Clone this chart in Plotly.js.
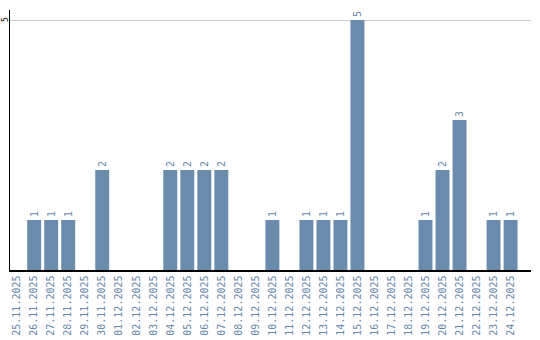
<!DOCTYPE html>
<html><head><meta charset="utf-8">
<script src="https://cdn.plot.ly/plotly-3.0.1.min.js"></script>
<style>body{margin:0;padding:0;background:#fff}#chart{width:540px;height:340px}</style>
</head><body><div id="chart"></div>
<script>
const dates = ["25.11.2025","26.11.2025","27.11.2025","28.11.2025","29.11.2025","30.11.2025","01.12.2025","02.12.2025","03.12.2025","04.12.2025","05.12.2025","06.12.2025","07.12.2025","08.12.2025","09.12.2025","10.12.2025","11.12.2025","12.12.2025","13.12.2025","14.12.2025","15.12.2025","16.12.2025","17.12.2025","18.12.2025","19.12.2025","20.12.2025","21.12.2025","22.12.2025","23.12.2025","24.12.2025"];
const counts = [0,1,1,1,0,2,0,0,0,2,2,2,2,0,0,1,0,1,1,1,5,0,0,0,1,2,3,0,1,1];
const yTickVals = [5];
const labels = counts.map(v => v > 0 ? String(v) : "");
const barColor = "#6a8bab";
Plotly.newPlot("chart", [{
  type: "bar", x: dates, y: counts, text: labels,
  textposition: "outside", textangle: -90, cliponaxis: false,
  textfont: {family: "DejaVu Sans Mono", size: 10, color: barColor},
  marker: {color: barColor}, hoverinfo: "none"
}], {
  width: 540, height: 340,
  margin: {l: 10, r: 9, t: 10, b: 70},
  paper_bgcolor: "#fff", plot_bgcolor: "#fff",
  bargap: 0.18, showlegend: false,
  xaxis: {type: "category", range: [-0.42, 30.2], tickangle: -90, showline: true, linecolor: "#000", linewidth: 1.5,
    ticks: "", showgrid: false, tickfont: {family: "DejaVu Sans Mono", size: 10, color: "#6688aa"}},
  yaxis: {range: [0, 5.2], showline: true, linecolor: "#000", linewidth: 1.5,
    showgrid: true, gridcolor: "#cccccc", zeroline: false, ticks: "",
    tickvals: yTickVals, showticklabels: false},
  annotations: yTickVals.map(v => ({
    xref: "paper", yref: "y", x: 0, y: v, text: String(v), showarrow: false,
    textangle: -90, xanchor: "center", yanchor: "middle", xshift: -5,
    font: {family: "DejaVu Sans Mono", size: 8, color: "#000"}
  }))
}, {staticPlot: true});
</script></body></html>
